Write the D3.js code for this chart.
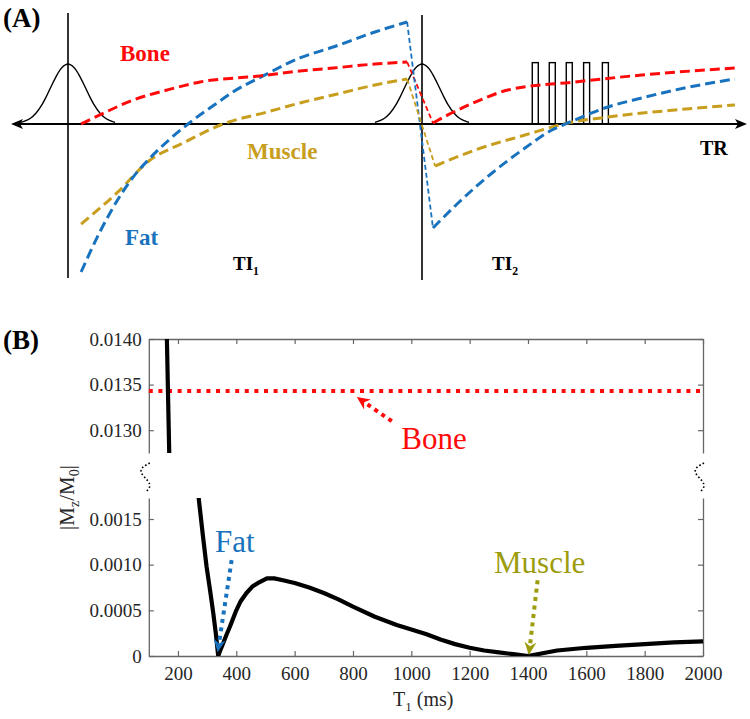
<!DOCTYPE html>
<html><head><meta charset="utf-8">
<script src="https://cdn.jsdelivr.net/npm/d3@7"></script>
<style>body{margin:0;background:#fff}svg{display:block}</style>
</head><body>
<svg id="c" width="750" height="719"></svg>
<script>
// ---------- Panel A (schematic): t normalised to TI1, mz = Mz/M0 ----------
const boneT_1  = [0.037,0.090,0.184,0.280,0.373,0.542,0.655,0.749,0.867,0.958];
const boneMz_1 = [0,0.087,0.231,0.327,0.404,0.462,0.510,0.538,0.577,0.596];
const boneT_2  = [1.031,1.073,1.150,1.243,1.432,1.621,1.884];
const boneMz_2 = [0.01,0.087,0.21,0.327,0.404,0.471,0.538];
const fatT_1   = [0.037,0.090,0.184,0.232,0.339,0.421,0.466,0.551,0.655,0.749,0.867,0.958];
const fatMz_1  = [-1.423,-1.038,-0.510,-0.327,0,0.202,0.308,0.462,0.635,0.740,0.885,0.981];
const fatT_2   = [1.031,1.102,1.198,1.291,1.367,1.412,1.525,1.621,1.715,1.884];
const fatMz_2  = [-1.0,-0.760,-0.471,-0.231,-0.058,0.010,0.163,0.250,0.327,0.433];
const muscleT_1  = [0.037,0.138,0.232,0.325,0.438,0.562,0.655,0.749,0.867,0.958];
const muscleMz_1 = [-0.962,-0.663,-0.346,-0.183,0,0.115,0.202,0.279,0.375,0.433];
const muscleT_2  = [1.037,1.150,1.291,1.412,1.525,1.715,1.884];
const muscleMz_2 = [-0.404,-0.25,-0.106,0.01,0.067,0.135,0.183];
// RF inversion pulse profile (offset from pulse centre, amplitude)
const pulseOffset = [-0.133,-0.107,-0.090,-0.073,-0.062,-0.048,-0.031,-0.017,0,0.017,0.031,0.048,0.062,0.073,0.090,0.107,0.133];
const pulseAmp    = [0.015,0.053,0.106,0.189,0.259,0.358,0.473,0.544,0.577,0.544,0.473,0.358,0.259,0.189,0.106,0.053,0.015];
const pulseCentres = [0, 1];
const readoutCentres = [1.320,1.368,1.416,1.465,1.518];
const readoutWidth = 0.017, readoutHeight = 0.59;

// ---------- Panel B: |Mz/M0| vs T1 ----------
const t1Values = [155,175,268,271,285,298,310,321,330,338,346,355,366,378,390,400,415,435,455,480,505,530,560,600,650,700,750,800,875,950,1000,1050,1100,1150,1200,1250,1300,1350,1400,1450,1500,1600,1700,1800,1900,2000];
const mzValues = [0.0151,0.01197,0.0019,0.00173,0.00133,0.00098,0.00072,0.00047,0.00024,0,0.00007,0.00014,0.00023,0.00032,0.00042,0.00050,0.00060,0.00069,0.00076,0.00081,0.00085,0.00085,0.00083,0.00080,0.00075,0.00069,0.00062,0.00054,0.00043,0.00034,0.00029,0.00024,0.00018,0.00013,0.00009,0.00006,0.00004,0.00002,0,0.00003,0.00006,0.00009,0.00011,0.00013,0.00015,0.00016];
const boneLevel = 0.01343;
const xTicks = [200,400,600,800,1000,1200,1400,1600,1800,2000];
const yTopTicks = [0.0130,0.0135,0.0140];
const yTopLabels = ["0.0130","0.0135","0.0140"];
const yBotTicks = [0,0.0005,0.0010,0.0015];
const yBotLabels = ["0","0.0005","0.0010","0.0015"];

const serif = "'Liberation Serif','Times New Roman',serif";
const RED = "#ff0a0a", BLUE = "#1872bd", GOLD = "#c89e1e", OLIVE = "#9c9c0c";
const svg = d3.select("#c");

// ===== Panel A =====
const xA = d3.scaleLinear().domain([0,1]).range([68,422]);
const yA = d3.scaleLinear().domain([0,1]).range([124,20]);
const gA = svg.append("g");

const pulseLine = d3.line().curve(d3.curveCatmullRom);
pulseCentres.forEach(c => {
  gA.append("path").attr("d", pulseLine(pulseOffset.map((o,i)=>[xA(c+o), yA(pulseAmp[i])])))
    .attr("fill","none").attr("stroke","#000").attr("stroke-width",1.4);
});
gA.append("line").attr("x1",xA(0)).attr("x2",xA(0)).attr("y1",yA(1.067)).attr("y2",yA(-1.48)).attr("stroke","#000").attr("stroke-width",1.6);
gA.append("line").attr("x1",xA(1)).attr("x2",xA(1)).attr("y1",yA(1.048)).attr("y2",yA(-1.50)).attr("stroke","#000").attr("stroke-width",1.6);
gA.selectAll("rect.ro").data(readoutCentres).enter().append("rect")
  .attr("x",d=>xA(d-readoutWidth/2)).attr("width",xA(readoutWidth)-xA(0))
  .attr("y",yA(readoutHeight)).attr("height",yA(0)-yA(readoutHeight))
  .attr("fill","none").attr("stroke","#000").attr("stroke-width",1.4);
const ax0 = xA(-0.161), ax1 = xA(1.918), ay = yA(0);
gA.append("line").attr("x1",ax0+6).attr("x2",ax1-6).attr("y1",ay).attr("y2",ay).attr("stroke","#000").attr("stroke-width",2);
gA.append("path").attr("d",`M${ax0},${ay}L${ax0+12},${ay-5}L${ax0+9},${ay}L${ax0+12},${ay+5}Z`).attr("fill","#000");
gA.append("path").attr("d",`M${ax1},${ay}L${ax1-12},${ay-5}L${ax1-9},${ay}L${ax1-12},${ay+5}Z`).attr("fill","#000");

const curveA = d3.line().curve(d3.curveMonotoneX);
function seg(ts, ms, color){
  gA.append("path").attr("d",curveA(ts.map((t,i)=>[xA(t),yA(ms[i])])))
    .attr("fill","none").attr("stroke",color).attr("stroke-width",3).attr("stroke-dasharray","10,5");
}
function trans(t0,m0,t1,m1,color){
  gA.append("line").attr("x1",xA(t0)).attr("y1",yA(m0)).attr("x2",xA(t1)).attr("y2",yA(m1))
    .attr("stroke",color).attr("stroke-width",1.8).attr("stroke-dasharray","5,3");
}
trans(boneT_1[boneT_1.length-1], boneMz_1[boneMz_1.length-1], boneT_2[0], boneMz_2[0], RED);
trans(fatT_1[fatT_1.length-1], fatMz_1[fatMz_1.length-1], fatT_2[0], fatMz_2[0], BLUE);
trans(muscleT_1[muscleT_1.length-1], muscleMz_1[muscleMz_1.length-1], muscleT_2[0], muscleMz_2[0], GOLD);
seg(muscleT_1, muscleMz_1, GOLD); seg(muscleT_2, muscleMz_2, GOLD);
seg(fatT_1, fatMz_1, BLUE); seg(fatT_2, fatMz_2, BLUE);
seg(boneT_1, boneMz_1, RED); seg(boneT_2, boneMz_2, RED);

function labelA(txt, t, m, color, size, sub){
  const tx = gA.append("text").attr("x",xA(t)).attr("y",yA(m)).attr("fill",color)
    .style("font-family",serif).attr("font-weight","bold").attr("font-size",size).text(txt);
  if (sub) tx.append("tspan").attr("dy",5).attr("font-size",size*0.62).text(sub);
}
labelA("Bone", 0.147, 0.606, RED, 23);
labelA("Muscle", 0.506, -0.337, GOLD, 23);
labelA("Fat", 0.161, -1.163, BLUE, 23);
labelA("TI", 0.466, -1.40, "#000", 19, "1");
labelA("TI", 1.198, -1.40, "#000", 19, "2");
labelA("TR", 1.785, -0.298, "#000", 20);
svg.append("text").attr("x",3).attr("y",27).style("font-family",serif).attr("font-weight","bold").attr("font-size",27).text("(A)");

// ===== Panel B =====
const xB = d3.scaleLinear().domain([100,2000]).range([148.8,703]);
const yTop = d3.scaleLinear().domain([0.01275,0.0140]).range([453,339]);
const yBot = d3.scaleLinear().domain([0,0.00173]).range([656,498]);
const gB = svg.append("g");
const AXC = "#666", TXC = "#262626";
svg.append("text").attr("x",3).attr("y",349).style("font-family",serif).attr("font-weight","bold").attr("font-size",27).text("(B)");

const defs = svg.append("defs");
defs.append("clipPath").attr("id","clipTop").append("rect").attr("x",xB(100)).attr("y",yTop(0.0140)).attr("width",xB(2000)-xB(100)).attr("height",yTop(0.01275)-yTop(0.0140));
defs.append("clipPath").attr("id","clipBot").append("rect").attr("x",xB(100)).attr("y",yBot(0.00173)).attr("width",xB(2000)-xB(100)).attr("height",yBot(0)-yBot(0.00173));

function styleAxis(g){
  g.attr("font-family",null).attr("font-size",null);
  g.selectAll("path.domain").attr("stroke",AXC).attr("stroke-width",1.3);
  g.selectAll(".tick line").attr("stroke",AXC).attr("stroke-width",1.2);
  g.selectAll("text").style("font-family",serif).style("font-size","19px").attr("fill",TXC);
}
styleAxis(gB.append("g").attr("transform",`translate(0,${yTop(0.0140)})`)
  .call(d3.axisTop(xB).tickValues(xTicks).tickSizeInner(-5).tickSizeOuter(0).tickFormat("")));
styleAxis(gB.append("g").attr("transform",`translate(${xB(100)},0)`)
  .call(d3.axisLeft(yTop).tickValues(yTopTicks).tickSizeInner(-5).tickSizeOuter(0).tickPadding(7).tickFormat((d,i)=>yTopLabels[i])));
styleAxis(gB.append("g").attr("transform",`translate(${xB(2000)},0)`)
  .call(d3.axisRight(yTop).tickValues(yTopTicks).tickSizeInner(-5).tickSizeOuter(0).tickFormat("")));
styleAxis(gB.append("g").attr("transform",`translate(0,${yBot(0)})`)
  .call(d3.axisBottom(xB).tickValues(xTicks).tickSizeInner(-5).tickSizeOuter(0).tickPadding(11).tickFormat(d3.format("d"))));
styleAxis(gB.append("g").attr("transform",`translate(${xB(100)},0)`)
  .call(d3.axisLeft(yBot).tickValues(yBotTicks).tickSizeInner(-5).tickSizeOuter(0).tickPadding(7).tickFormat((d,i)=>yBotLabels[i])));
styleAxis(gB.append("g").attr("transform",`translate(${xB(2000)},0)`)
  .call(d3.axisRight(yBot).tickValues(yBotTicks).tickSizeInner(-5).tickSizeOuter(0).tickFormat("")));

const sq = d3.line().curve(d3.curveBasis);
[xB(100), xB(2000)].forEach(x0 => {
  const yb = yTop(0.01275);
  const pts = [[x0+1,yb+10],[x0-7,yb+14],[x0-9,yb+20],[x0,yb+28],[x0+2,yb+34],[x0-3,yb+39]];
  gB.append("path").attr("d",sq(pts)).attr("fill","none").attr("stroke","#000")
    .attr("stroke-width",1.6).attr("stroke-dasharray","1.6,2.2");
});

gB.append("line").attr("x1",xB(100)).attr("x2",xB(2000)).attr("y1",yTop(boneLevel)).attr("y2",yTop(boneLevel))
  .attr("stroke",RED).attr("stroke-width",4).attr("stroke-dasharray","4,5.6");

const pts = t1Values.map((t,i)=>[t,mzValues[i]]);
gB.append("path").attr("clip-path","url(#clipTop)")
  .attr("d", d3.line().x(d=>xB(d[0])).y(d=>yTop(d[1]))(pts))
  .attr("fill","none").attr("stroke","#000").attr("stroke-width",4.2).attr("stroke-linejoin","round");
gB.append("path").attr("clip-path","url(#clipBot)")
  .attr("d", d3.line().x(d=>xB(d[0])).y(d=>yBot(d[1]))(pts))
  .attr("fill","none").attr("stroke","#000").attr("stroke-width",4.2).attr("stroke-linejoin","round");

function arrow(x1,y1,x2,y2,color){
  const ang = Math.atan2(y2-y1,x2-x1), L = 13, W = 6;
  const bx = x2 - L*Math.cos(ang), by = y2 - L*Math.sin(ang);
  gB.append("line").attr("x1",x1).attr("y1",y1).attr("x2",x2-(L-3)*Math.cos(ang)).attr("y2",y2-(L-3)*Math.sin(ang))
    .attr("stroke",color).attr("stroke-width",4).attr("stroke-dasharray","4,4.5");
  const nx = -Math.sin(ang), ny = Math.cos(ang);
  const nX = x2 - (L-4)*Math.cos(ang), nY = y2 - (L-4)*Math.sin(ang);
  gB.append("path").attr("d",`M${x2},${y2}L${bx+nx*W},${by+ny*W}L${nX},${nY}L${bx-nx*W},${by-ny*W}Z`).attr("fill",color);
}
arrow(xB(933), yTop(0.013099), xB(813), yTop(0.013363), RED);
arrow(xB(384), yBot(0.00105), xB(336), yBot(0.00004), BLUE);
arrow(xB(1433), yBot(0.00083), xB(1403), yBot(0.00001), OLIVE);

function labelB(txt, x, y, color){
  gB.append("text").attr("x",x).attr("y",y).attr("fill",color).style("font-family",serif)
    .attr("font-size",31).attr("text-anchor","middle").text(txt);
}
labelB("Bone", xB(1078), yTop(0.01279), RED);
labelB("Fat", xB(395), yBot(0.00114), BLUE);
labelB("Muscle", xB(1440), yBot(0.00091), OLIVE);

const xl = svg.append("text").attr("x",393).attr("y",706).style("font-family",serif).attr("font-size",20).attr("fill",TXC).text("T");
xl.append("tspan").attr("dy",5).attr("font-size",13).text("1");
xl.append("tspan").attr("dy",-5).text(" (ms)");
const yl = svg.append("text").attr("transform",`translate(74,${(yTop(0.0140)+yBot(0))/2}) rotate(-90)`)
  .attr("text-anchor","middle").style("font-family",serif).attr("font-size",21).attr("fill",TXC).text("|M");
yl.append("tspan").attr("dy",5).attr("font-size",14).text("z");
yl.append("tspan").attr("dy",-5).text("/M");
yl.append("tspan").attr("dy",5).attr("font-size",14).text("0");
yl.append("tspan").attr("dy",-5).text("|");
</script>
</body></html>
